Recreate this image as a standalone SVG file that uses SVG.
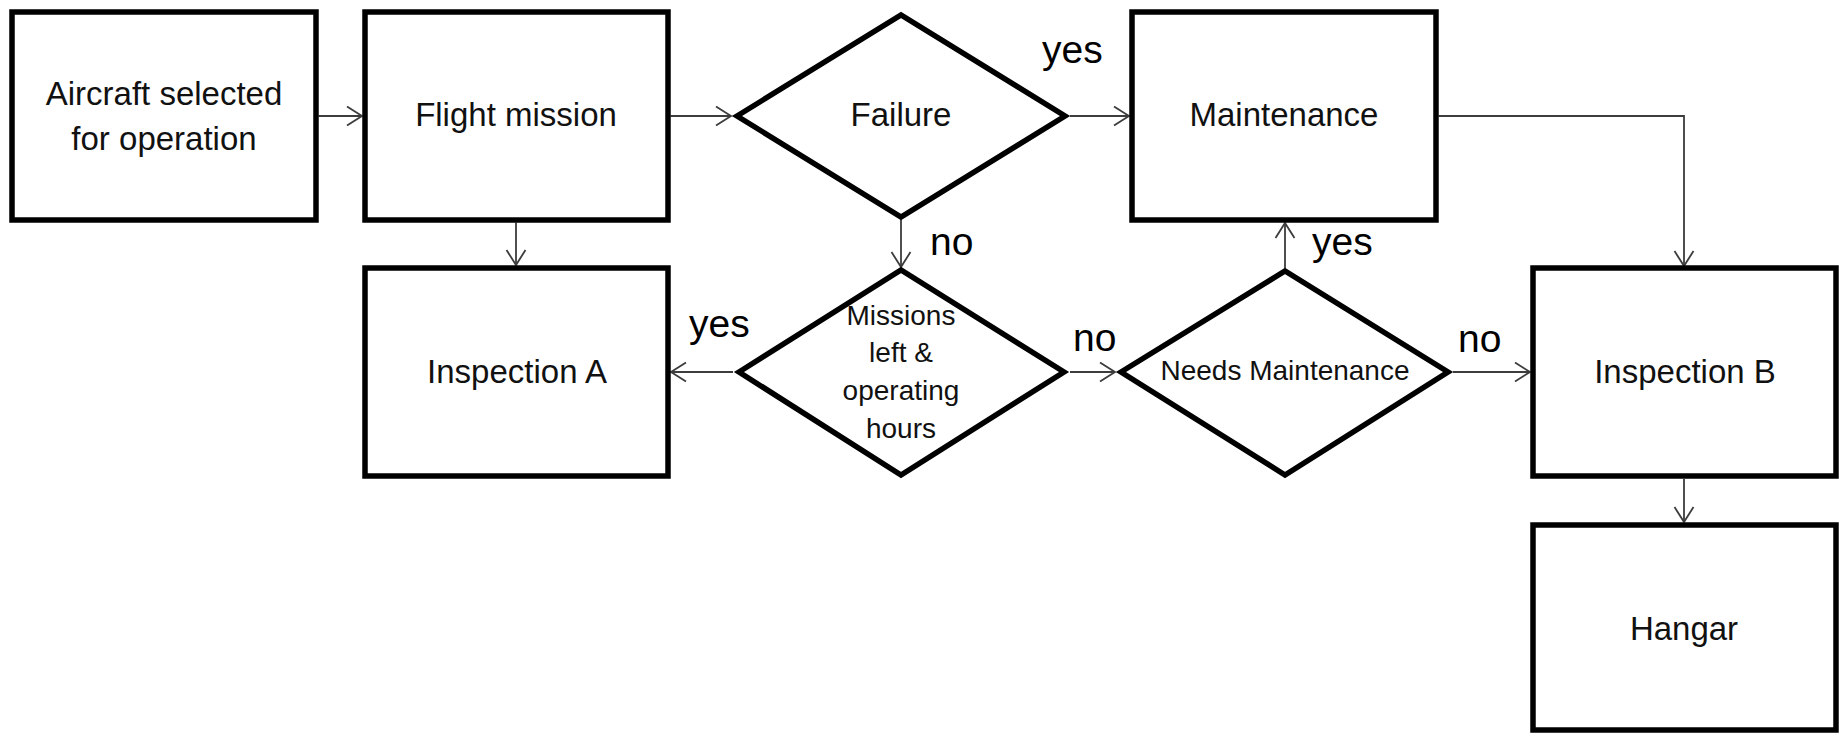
<svg xmlns="http://www.w3.org/2000/svg" width="1843" height="733" viewBox="0 0 1843 733">
<style>
.box{fill:#fff;stroke:#000;stroke-width:5.5;stroke-linejoin:miter}
.t{font-family:"Liberation Sans",Arial,sans-serif;font-size:33px;fill:#111;text-anchor:middle}
.s{font-family:"Liberation Sans",Arial,sans-serif;font-size:28px;fill:#111;text-anchor:middle}
.lbl{font-family:"Liberation Sans",Arial,sans-serif;font-size:39px;fill:#000}
.c{fill:none;stroke:#3c3c3c;stroke-width:1.8}
</style>
<defs>
<marker id="arr" markerUnits="userSpaceOnUse" markerWidth="20" markerHeight="24" viewBox="-17 -12 19 24" refX="0" refY="0" orient="auto">
<path d="M-15,-9.5 L0,0 L-15,9.5" fill="none" stroke="#3c3c3c" stroke-width="1.8"/>
</marker>
</defs>
<rect x="0" y="0" width="1843" height="733" fill="#fff"/>
<g id="connectors">
<path class="c" d="M318.5,116 H362" marker-end="url(#arr)"/>
<path class="c" d="M670.5,116 H731" marker-end="url(#arr)"/>
<path class="c" d="M1070,116 H1129" marker-end="url(#arr)"/>
<path class="c" d="M1438.5,116 H1684 V266" marker-end="url(#arr)"/>
<path class="c" d="M516,222.5 V265" marker-end="url(#arr)"/>
<path class="c" d="M901,220 V267" marker-end="url(#arr)"/>
<path class="c" d="M733,372 H671" marker-end="url(#arr)"/>
<path class="c" d="M1070,372 H1115" marker-end="url(#arr)"/>
<path class="c" d="M1285,268 V223" marker-end="url(#arr)"/>
<path class="c" d="M1453,372 H1530" marker-end="url(#arr)"/>
<path class="c" d="M1684,479 V522" marker-end="url(#arr)"/>
</g>
<g id="aircraft-selected">
<rect class="box" x="12" y="12" width="304" height="208"/>
<text class="t" x="164" y="105">Aircraft selected</text>
<text class="t" x="164" y="150">for operation</text>
</g>
<g id="flight-mission">
<rect class="box" x="365" y="12" width="303" height="208"/>
<text class="t" x="516" y="126">Flight mission</text>
</g>
<g id="failure">
<polygon class="box" points="737,116 901,15 1065,116 901,217"/>
<text class="t" x="901" y="126">Failure</text>
</g>
<g id="maintenance">
<rect class="box" x="1132" y="12" width="304" height="208"/>
<text class="t" x="1284" y="126">Maintenance</text>
</g>
<g id="inspection-a">
<rect class="box" x="365" y="268" width="303" height="208"/>
<text class="t" x="517" y="383">Inspection A</text>
</g>
<g id="missions-left">
<polygon class="box" points="739,372 901,270 1064,372 901,475"/>
<text class="s" x="901" y="325">Missions</text>
<text class="s" x="901" y="362">left &amp;</text>
<text class="s" x="901" y="400">operating</text>
<text class="s" x="901" y="438">hours</text>
</g>
<g id="needs-maintenance">
<polygon class="box" points="1121,372 1285,271 1448,372 1285,475"/>
<text class="s" x="1285" y="380">Needs Maintenance</text>
</g>
<g id="inspection-b">
<rect class="box" x="1533" y="268" width="303" height="208"/>
<text class="t" x="1685" y="383">Inspection B</text>
</g>
<g id="hangar">
<rect class="box" x="1533" y="525" width="303" height="205"/>
<text class="t" x="1684" y="640">Hangar</text>
</g>
<g id="labels">
<text class="lbl" x="1042" y="63">yes</text>
<text class="lbl" x="930" y="255">no</text>
<text class="lbl" x="689" y="337">yes</text>
<text class="lbl" x="1073" y="351">no</text>
<text class="lbl" x="1312" y="255">yes</text>
<text class="lbl" x="1458" y="352">no</text>
</g>
</svg>
